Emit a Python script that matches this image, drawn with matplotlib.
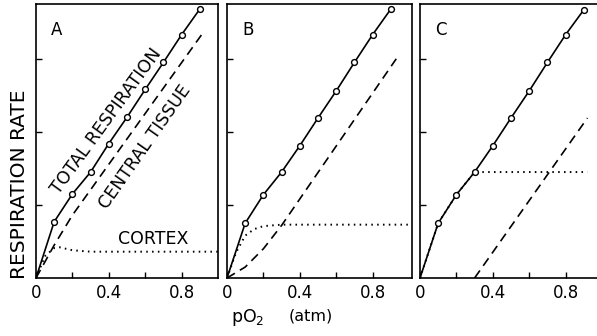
"""Respiration rate vs pO2: three panels (A, B, C) in the style of the scanned figure."""

import matplotlib
matplotlib.use("Agg")
import matplotlib.pyplot as plt

plt.rcParams["font.family"] = ["DejaVu Sans"]

# pO2 (atm) where the total respiration was measured
TOTAL_X = [0.0, 0.1, 0.2, 0.3, 0.4, 0.5, 0.6, 0.7, 0.8, 0.9]

# Panel A
A_TOTAL = [0.0, 0.77, 1.15, 1.45, 1.84, 2.20, 2.58, 2.95, 3.33, 3.68]
A_CENTRAL_X = [0.0, 0.1, 0.2, 0.91]
A_CENTRAL = [0.0, 0.45, 0.86, 3.33]
A_CORTEX_X = [0.0, 0.05, 0.1, 0.13, 0.2, 0.3, 0.5, 1.0]
A_CORTEX = [0.0, 0.30, 0.41, 0.42, 0.38, 0.36, 0.36, 0.36]

# Panel B
B_TOTAL = [0.0, 0.75, 1.14, 1.45, 1.81, 2.19, 2.56, 2.95, 3.33, 3.68]
B_CENTRAL_X = [0.0, 0.1, 0.2, 0.3, 0.93]
B_CENTRAL = [0.0, 0.15, 0.40, 0.72, 3.00]
B_CORTEX_X = [0.0, 0.05, 0.1, 0.15, 0.2, 0.3, 1.0]
B_CORTEX = [0.0, 0.35, 0.58, 0.67, 0.71, 0.73, 0.73]

# Panel C
C_TOTAL = [0.0, 0.75, 1.14, 1.45, 1.81, 2.19, 2.56, 2.95, 3.33, 3.67]
C_CENTRAL_X = [0.30, 0.92]
C_CENTRAL = [0.0, 2.19]
C_CORTEX_X = [0.0, 0.1, 0.2, 0.3, 0.92]
C_CORTEX = [0.0, 0.75, 1.14, 1.45, 1.45]

PANELS = [
    ("A", A_TOTAL, A_CENTRAL_X, A_CENTRAL, A_CORTEX_X, A_CORTEX),
    ("B", B_TOTAL, B_CENTRAL_X, B_CENTRAL, B_CORTEX_X, B_CORTEX),
    ("C", C_TOTAL, C_CENTRAL_X, C_CENTRAL, C_CORTEX_X, C_CORTEX),
]

W, H = 597, 336
PX_PER_ATM = 182
# (left px, right px) of each panel; C runs off the right edge of the scan
PANEL_PX = [(36, 218), (227, 412), (420, 597)]
TOP, BOTTOM = 4, 278

fig = plt.figure(figsize=(W / 100, H / 100), dpi=100)

for (label, total, cx, cy, kx, ky), (x0, x1) in zip(PANELS, PANEL_PX):
    ax = fig.add_axes([x0 / W, (H - BOTTOM) / H, (x1 - x0) / W, (BOTTOM - TOP) / H])
    ax.set_xlim(0, (x1 - x0) / PX_PER_ATM)
    ax.set_ylim(0, 3.75)

    ax.plot(TOTAL_X, total, color="black", lw=1.2, marker="o", ms=4.2,
            mfc="white", mec="black", mew=1.0, markevery=list(range(1, 10)),
            zorder=3)
    ax.plot(cx, cy, color="black", lw=1.2, dashes=(5.5, 3.5))
    ax.plot(kx, ky, color="black", lw=1.4, dashes=(0.8, 2.2))

    ax.set_xticks([0, 0.2, 0.4, 0.6, 0.8])
    ax.set_xticklabels(["0", "", "0.4", "", "0.8"])
    ax.set_yticks([1, 2, 3])
    ax.set_yticklabels([])
    ax.tick_params(direction="in", length=4, width=1.0, labelsize=12, pad=4)
    for spine in ax.spines.values():
        spine.set_linewidth(1.2)
    if label == "C":
        ax.spines["right"].set_visible(False)

    ax.text(21 / PX_PER_ATM, 3.39, label, fontsize=12, ha="center", va="center")

    if label == "A":
        ax.text(0.385, 2.14, "TOTAL RESPIRATION", fontsize=12.5, rotation=54,
                ha="center", va="center", rotation_mode="anchor")
        ax.text(0.60, 1.80, "CENTRAL TISSUE", fontsize=12.5, rotation=55,
                ha="center", va="center", rotation_mode="anchor")
        ax.text(0.645, 0.53, "CORTEX", fontsize=12.5, ha="center", va="center")

fig.text(20 / W, 1 - 184 / H, "RESPIRATION RATE", rotation=90, fontsize=14.5,
         ha="center", va="center")
fig.text(248 / W, 1 - 317 / H, r"pO$_2$", fontsize=12.5, ha="center", va="center")
fig.text(311 / W, 1 - 316 / H, "(atm)", fontsize=11.5, ha="center", va="center")

fig.savefig("out.png", dpi=100)
